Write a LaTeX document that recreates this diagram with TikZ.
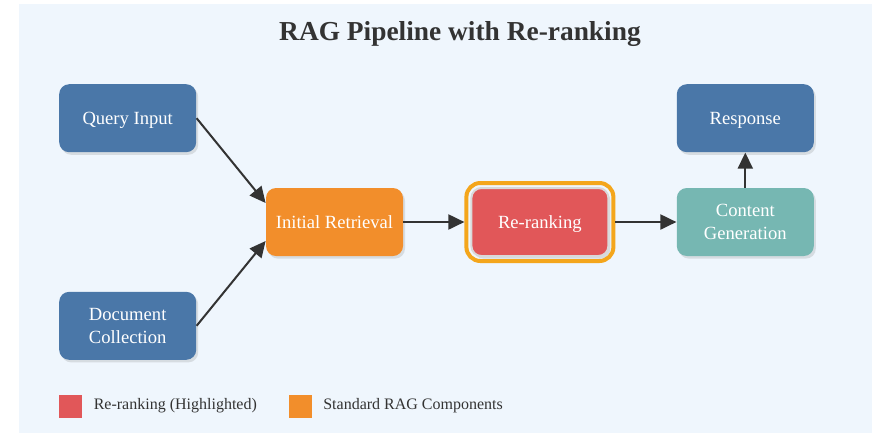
\documentclass[tikz,border=0pt]{standalone}
\usepackage{fontspec}
\setmainfont{Liberation Serif}
\usetikzlibrary{positioning,fit,shadows,arrows.meta}

\definecolor{bgblue}{HTML}{EFF6FD}
\definecolor{ragblue}{HTML}{4A77A8}
\definecolor{ragorange}{HTML}{F28E2B}
\definecolor{ragred}{HTML}{E15759}
\definecolor{ragteal}{HTML}{76B7B2}
\definecolor{ringgold}{HTML}{F4A61C}
\definecolor{inkgray}{HTML}{333333}

\begin{document}
\begin{tikzpicture}[x=0.5pt, y=-0.5pt,
  stage/.style={rectangle, rounded corners=5pt, minimum width=68.5pt, minimum height=34pt, text=white, align=center, text depth=0.2pt, font=\fontsize{9.3}{11.5}\selectfont, drop shadow={shadow xshift=1pt, shadow yshift=-1.3pt, opacity=0.22}},
  ring/.style={draw=ringgold, line width=2pt, rounded corners=7pt, inner sep=2pt},
  key/.style={rectangle, minimum size=11.5pt, inner sep=0pt},
  keytext/.style={inner sep=0pt, text=inkgray, font=\fontsize{8}{10}\selectfont},
  flow/.style={->, draw=inkgray, line width=1pt},
  >={Stealth[length=8pt,width=7.5pt,inset=0pt]}]
    \useasboundingbox (0,0) rectangle (872,435);
    \fill[bgblue] (19,4) rectangle (872,433);
    \node[font=\fontsize{13.7}{16}\selectfont\bfseries, text=inkgray] (title) at (460,34) {RAG Pipeline with Re-ranking};
    % main row
    \node[stage, fill=ragorange] (init) at (334.5,222) {Initial Retrieval};
    \node[stage, fill=ragred, draw=black!15, line width=1pt, right=33.5pt of init] (rerank) {Re-ranking};
    \node[ring, fit=(rerank)] (hilite) {};
    \node[stage, fill=ragteal, right=33.5pt of rerank] (gen) {Content\\Generation};
    \node[stage, fill=ragblue, above=17.5pt of gen] (resp) {Response};
    \node[stage, fill=ragblue, above left=17.5pt and 34.5pt of init] (query) {Query Input};
    \node[stage, fill=ragblue, below left=17.5pt and 34.5pt of init] (docs) {Document\\Collection};
      \draw[flow] (query.east) -- ([yshift=9.5pt]init.west);
      \draw[flow] (docs.east) -- ([yshift=-9.5pt]init.west);
      \draw[flow] (init) -- (hilite);
      \draw[flow] (hilite) -- (gen);
      \draw[flow] (gen) -- (resp);
    % legend
    \node[key, fill=ragred] (keyred) at (70.5,406) {};
    \node[keytext, right=5.5pt of keyred] (keyredtext) {Re-ranking (Highlighted)};
    \node[key, fill=ragorange] (keyorange) at (300,406) {};
    \node[keytext, right=5.5pt of keyorange] (keyorangetext) {Standard RAG Components};
  \end{tikzpicture}
\end{document}
